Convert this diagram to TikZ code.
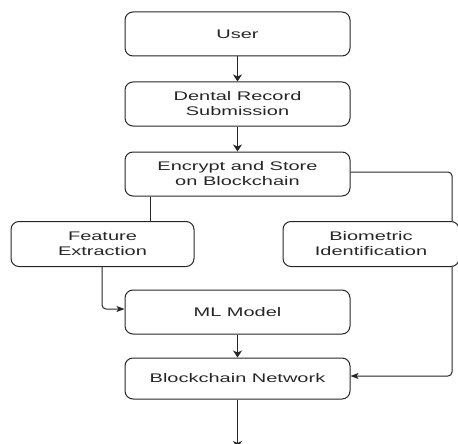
\documentclass[tikz,border=0pt]{standalone}
\usepackage{fontspec}
\setmainfont{Liberation Sans}[FakeStretch=1.6]
\usetikzlibrary{arrows.meta}
\begin{document}
\begin{tikzpicture}[x=1pt,y=-1pt,
  box/.style={draw=black!85, line width=1pt, rounded corners=8pt, align=center,
    text=black!85, font=\fontsize{12.5}{15}\selectfont, inner sep=0pt},
  conn/.style={draw=black!85, line width=1pt, rounded corners=4pt},
  varr/.style={conn, -{Stealth[length=7pt,width=9pt,inset=2pt]}},
  harr/.style={conn, -{Stealth[length=8pt,width=6pt,inset=2pt]}}]
\useasboundingbox (0,0) rectangle (458,444);
\node[box, minimum width=225pt, minimum height=44pt] (user) at (237.5,34) {User};
\node[box, minimum width=225pt, minimum height=44pt] (dental) at (237.5,104) {Dental Record\\Submission};
\node[box, minimum width=225pt, minimum height=44pt] (enc) at (237.5,174) {Encrypt and Store\\on Blockchain};
\node[box, minimum width=183pt, minimum height=45pt] (feat) at (102.5,244) {Feature\\Extraction};
\node[box, minimum width=176pt, minimum height=45pt] (bio) at (371,244) {Biometric\\Identification};
\node[box, minimum width=225pt, minimum height=44pt] (ml) at (237.5,312) {ML Model};
\node[box, minimum width=225pt, minimum height=41pt] (bc) at (237.5,378.5) {Blockchain Network};
\coordinate (end) at (237.5,448);
\draw[varr] (user) -- (dental);
\draw[varr] (dental) -- (enc);
\draw[conn] (enc.south -| 150,0) -- (feat.north -| 150,0);
\draw[conn] (enc.east |- 0,172) -| (bio.north -| 452,0);
\draw[harr] (feat.south -| 102,0) |- (ml.west |- 0,309);
\draw[harr] (bio.south -| 452,0) |- (bc.east |- 0,376);
\draw[varr] (ml) -- (bc);
\draw[varr] (bc) -- (end);
\end{tikzpicture}
\end{document}
